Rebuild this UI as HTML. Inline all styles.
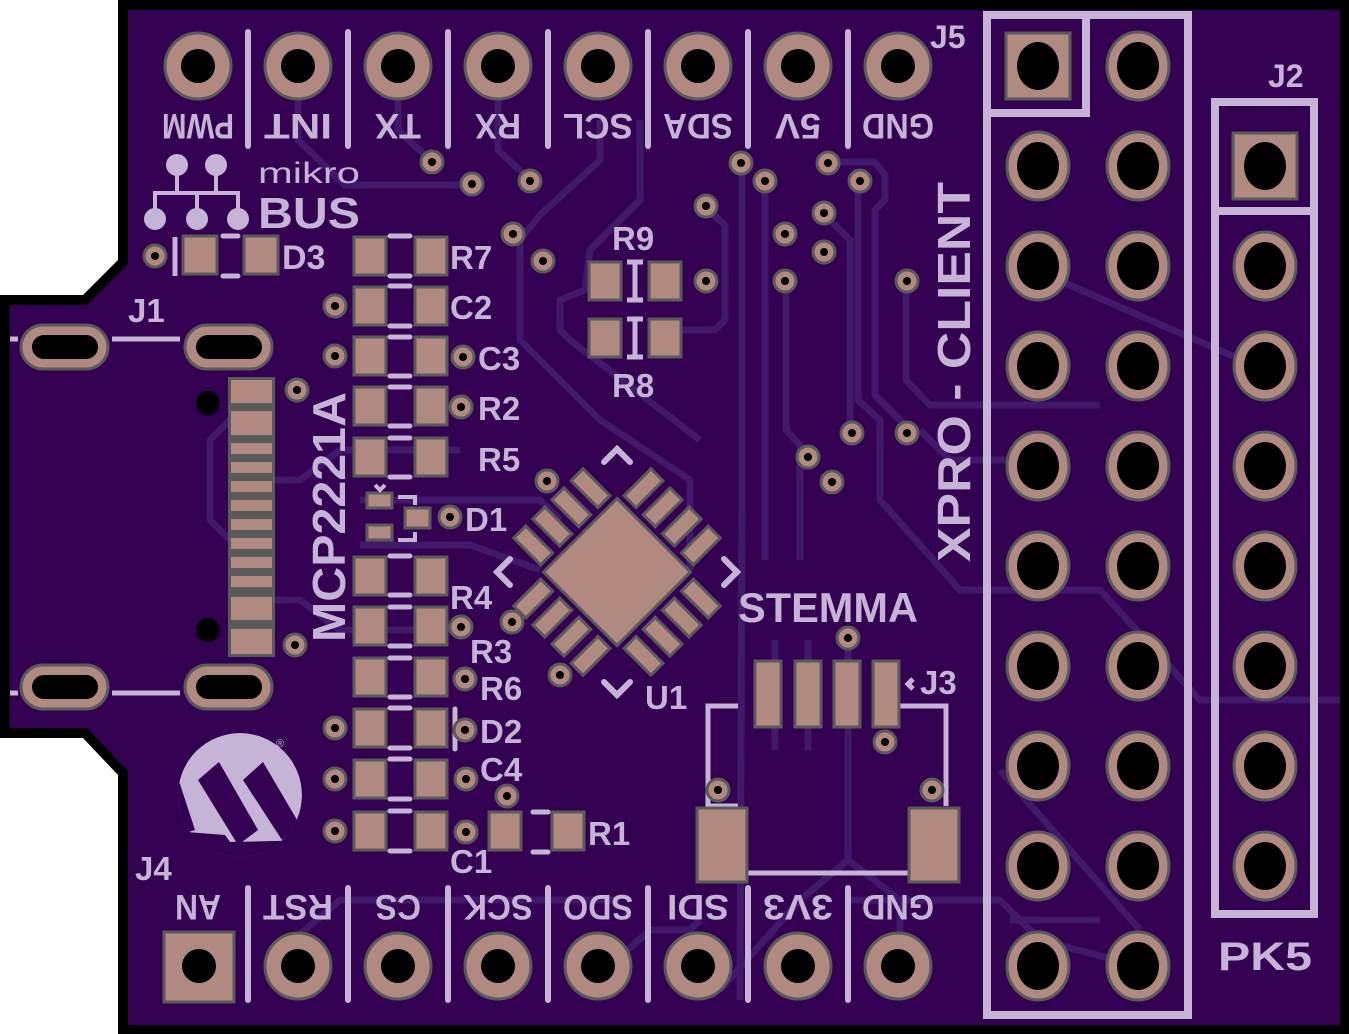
<!DOCTYPE html>
<html><head><meta charset="utf-8"><style>
html,body{margin:0;padding:0;background:#fff;}
svg{display:block;}
text{font-family:"Liberation Sans","DejaVu Sans",sans-serif;font-weight:bold;fill:#c6b4d6;}
</style></head><body>
<svg width="1349" height="1034" viewBox="0 0 1349 1034" xmlns="http://www.w3.org/2000/svg">
<defs>
<g id="via"><circle r="11" fill="#b08a80" stroke="#5a5a5a" stroke-width="3"/><circle r="4" fill="#000"/></g>
<g id="hp"><circle r="33" fill="#b08a80" stroke="#5a5a5a" stroke-width="3"/><circle r="17" fill="#000"/></g>
<g id="ep"><ellipse rx="31" ry="34" fill="#b08a80" stroke="#5a5a5a" stroke-width="3"/><ellipse rx="21" ry="24" fill="#000"/></g>
<rect id="sp" x="-16" y="-19" width="32" height="38" fill="#b08a80" stroke="#5a5a5a" stroke-width="3"/>
<g id="upins">
<rect x="-49" y="-97" width="17" height="38" fill="#b08a80" stroke="#5a5a5a" stroke-width="3"/>
<rect x="-22" y="-97" width="17" height="38" fill="#b08a80" stroke="#5a5a5a" stroke-width="3"/>
<rect x="5" y="-97" width="17" height="38" fill="#b08a80" stroke="#5a5a5a" stroke-width="3"/>
<rect x="32" y="-97" width="17" height="38" fill="#b08a80" stroke="#5a5a5a" stroke-width="3"/>
</g>
</defs>
<polygon points="118,0 1349,0 1349,1034 118,1034 118,775 83,738 0,738 0,295 83,295 118,260" fill="#000"/>
<polygon points="128,10 1340,10 1340,1025 128,1025 128,771 87,728 10,728 10,305 87,305 128,264" fill="#330052"/>

<!-- traces -->
<g fill="none" stroke="#41186a" stroke-width="7" stroke-linejoin="round">
<path d="M298,100 L298,140 L345,185 L465,185"/>
<path d="M398,100 L398,130 L430,160"/>
<path d="M498,100 L498,150 L530,180"/>
<path d="M742,162 L742,500 L740,1000"/>
<path d="M765,181 L765,560"/>
<path d="M786,282 L786,430 L800,445 L800,560"/>
<path d="M823,213 L850,240 L850,420 L860,440"/>
<path d="M858,181 L858,400 L880,420 L880,500 L960,590 L1100,590 L1200,700 L1340,700"/>
<path d="M827,162 L875,162 L885,175 L885,200 L875,210 L875,395 L905,425"/>
<path d="M906,281 L906,380 L930,405 L1100,405"/>
<path d="M708,210 L725,225 L725,320 L715,330 L660,330"/>
<path d="M600,120 L600,160 L540,215 L520,240 L520,340 L600,420 L690,480 L690,570"/>
<path d="M640,120 L640,200 L590,250 L585,290 L560,300 L560,330 L570,340 L700,440"/>
<path d="M920,430 L950,460 L1035,460"/>
<path d="M848,640 L848,860 L800,900 L720,990"/>
<path d="M848,860 L900,900 L900,990"/>
<path d="M850,900 L1000,900 L1040,940 L1138,966"/>
<path d="M775,640 L775,750"/>
<path d="M808,640 L808,750"/>
<path d="M230,540 L210,520 L210,440 L230,420"/>
<path d="M275,480 L300,480 L340,450 L460,450"/>
<path d="M275,600 L300,600 L340,630 L460,630"/>
<path d="M360,500 L540,500 L560,520"/>
<path d="M360,545 L470,545 L540,570"/>
<path d="M600,975 L650,930 L690,930 L700,920"/>
<path d="M270,960 L340,900 L620,900"/>
<path d="M1010,920 L1100,920"/>
<path d="M1035,270 L1265,370"/>
<path d="M1000,770 L1140,930"/>
</g>

<!-- separators -->
<g stroke="#c6b4d6" stroke-width="6" stroke-linecap="round">
<line x1="248" y1="32" x2="248" y2="146"/><line x1="348" y1="32" x2="348" y2="146"/><line x1="448" y1="32" x2="448" y2="146"/><line x1="548" y1="32" x2="548" y2="146"/><line x1="648" y1="32" x2="648" y2="146"/><line x1="748" y1="32" x2="748" y2="146"/><line x1="848" y1="32" x2="848" y2="146"/>
<line x1="248" y1="888" x2="248" y2="1000"/><line x1="348" y1="888" x2="348" y2="1000"/><line x1="448" y1="888" x2="448" y2="1000"/><line x1="548" y1="888" x2="548" y2="1000"/><line x1="648" y1="888" x2="648" y2="1000"/><line x1="748" y1="888" x2="748" y2="1000"/><line x1="848" y1="888" x2="848" y2="1000"/>
</g>
<use href="#hp" x="198" y="66"/><use href="#hp" x="298" y="66"/><use href="#hp" x="398" y="66"/><use href="#hp" x="498" y="66"/><use href="#hp" x="598" y="66"/><use href="#hp" x="698" y="66"/><use href="#hp" x="798" y="66"/><use href="#hp" x="898" y="66"/>
<g font-size="35" text-anchor="middle">
<text x="198" y="140" transform="rotate(180 198 127)" textLength="72" lengthAdjust="spacingAndGlyphs">PWM</text>
<text x="298" y="140" transform="rotate(180 298 127)" textLength="68" lengthAdjust="spacingAndGlyphs">INT</text>
<text x="398" y="140" transform="rotate(180 398 127)" textLength="46" lengthAdjust="spacingAndGlyphs">TX</text>
<text x="498" y="140" transform="rotate(180 498 127)" textLength="46" lengthAdjust="spacingAndGlyphs">RX</text>
<text x="598" y="140" transform="rotate(180 598 127)" textLength="70" lengthAdjust="spacingAndGlyphs">SCL</text>
<text x="698" y="140" transform="rotate(180 698 127)" textLength="70" lengthAdjust="spacingAndGlyphs">SDA</text>
<text x="798" y="140" transform="rotate(180 798 127)" textLength="46" lengthAdjust="spacingAndGlyphs">5V</text>
<text x="898" y="140" transform="rotate(180 898 127)" textLength="72" lengthAdjust="spacingAndGlyphs">GND</text>
<text x="198" y="921" transform="rotate(180 198 908)" textLength="46" lengthAdjust="spacingAndGlyphs">AN</text>
<text x="298" y="921" transform="rotate(180 298 908)" textLength="70" lengthAdjust="spacingAndGlyphs">RST</text>
<text x="398" y="921" transform="rotate(180 398 908)" textLength="46" lengthAdjust="spacingAndGlyphs">CS</text>
<text x="498" y="921" transform="rotate(180 498 908)" textLength="70" lengthAdjust="spacingAndGlyphs">SCK</text>
<text x="598" y="921" transform="rotate(180 598 908)" textLength="70" lengthAdjust="spacingAndGlyphs">SDO</text>
<text x="698" y="921" transform="rotate(180 698 908)" textLength="62" lengthAdjust="spacingAndGlyphs">SDI</text>
<text x="798" y="921" transform="rotate(180 798 908)" textLength="70" lengthAdjust="spacingAndGlyphs">3V3</text>
<text x="898" y="921" transform="rotate(180 898 908)" textLength="72" lengthAdjust="spacingAndGlyphs">GND</text>
</g>
<!-- bottom header -->
<rect x="164" y="932" width="70" height="70" fill="#b08a80" stroke="#5a5a5a" stroke-width="3"/><circle cx="199" cy="966" r="17" fill="#000"/>
<use href="#hp" x="298" y="966"/><use href="#hp" x="398" y="966"/><use href="#hp" x="498" y="966"/><use href="#hp" x="598" y="966"/><use href="#hp" x="698" y="966"/><use href="#hp" x="798" y="966"/><use href="#hp" x="898" y="966"/>

<!-- J5 -->
<g fill="none" stroke="#c6b4d6" stroke-width="8">
<rect x="987" y="15" width="201" height="1000"/>
<polyline points="1086,15 1086,113 987,113"/>
<rect x="1215" y="102" width="99" height="812"/>
<line x1="1215" y1="211" x2="1314" y2="211"/>
</g>
<rect x="1006" y="33" width="64" height="66" fill="#b08a80" stroke="#5a5a5a" stroke-width="3"/><ellipse cx="1038" cy="66" rx="21" ry="24" fill="#000"/>
<use href="#ep" x="1138" y="66"/>
<g>
<use href="#ep" x="1038" y="166"/><use href="#ep" x="1138" y="166"/>
<use href="#ep" x="1038" y="266"/><use href="#ep" x="1138" y="266"/>
<use href="#ep" x="1038" y="366"/><use href="#ep" x="1138" y="366"/>
<use href="#ep" x="1038" y="466"/><use href="#ep" x="1138" y="466"/>
<use href="#ep" x="1038" y="566"/><use href="#ep" x="1138" y="566"/>
<use href="#ep" x="1038" y="666"/><use href="#ep" x="1138" y="666"/>
<use href="#ep" x="1038" y="766"/><use href="#ep" x="1138" y="766"/>
<use href="#ep" x="1038" y="866"/><use href="#ep" x="1138" y="866"/>
<use href="#ep" x="1038" y="966"/><use href="#ep" x="1138" y="966"/>
</g>
<rect x="1233" y="133" width="64" height="66" fill="#b08a80" stroke="#5a5a5a" stroke-width="3"/><ellipse cx="1265" cy="166" rx="21" ry="24" fill="#000"/>
<use href="#ep" x="1265" y="266"/><use href="#ep" x="1265" y="366"/><use href="#ep" x="1265" y="466"/><use href="#ep" x="1265" y="566"/><use href="#ep" x="1265" y="666"/><use href="#ep" x="1265" y="766"/><use href="#ep" x="1265" y="866"/>
<text x="930" y="48" font-size="32">J5</text>
<text x="1268" y="87" font-size="32">J2</text>
<text x="1218" y="970" font-size="40" textLength="94" lengthAdjust="spacingAndGlyphs">PK5</text>
<text transform="translate(970,562) rotate(-90)" font-size="46" textLength="380" lengthAdjust="spacingAndGlyphs">XPRO - CLIENT</text>

<!-- mikroBUS logo -->
<g fill="#c6b4d6" stroke="#c6b4d6" stroke-width="4">
<circle cx="177" cy="165" r="9"/><circle cx="216" cy="165" r="9"/>
<circle cx="155" cy="219" r="9"/><circle cx="197" cy="219" r="9"/><circle cx="238" cy="219" r="9"/>
<polyline fill="none" points="177,165 177,193"/><polyline fill="none" points="216,165 216,193"/>
<polyline fill="none" points="155,219 155,193 238,193 238,219"/><line x1="197" y1="193" x2="197" y2="219"/>
</g>
<text x="258" y="183" font-size="30" style="font-weight:normal" textLength="102" lengthAdjust="spacingAndGlyphs">mikro</text>
<text x="258" y="228" font-size="44" textLength="102" lengthAdjust="spacingAndGlyphs">BUS</text>

<!-- D3 -->
<line x1="175" y1="237" x2="175" y2="276" stroke="#c6b4d6" stroke-width="5"/>
<rect x="183" y="236" width="34" height="38" fill="#b08a80" stroke="#5a5a5a" stroke-width="3"/>
<rect x="244" y="236" width="34" height="38" fill="#b08a80" stroke="#5a5a5a" stroke-width="3"/>
<g stroke="#c6b4d6" stroke-width="5" stroke-linecap="round"><line x1="223" y1="236" x2="238" y2="236"/><line x1="223" y1="276" x2="238" y2="276"/></g>
<text x="282" y="269" font-size="34">D3</text>

<!-- left passive column -->
<g stroke="#c6b4d6" stroke-width="5" stroke-linecap="round">
<line x1="390" y1="236" x2="410" y2="236"/><line x1="390" y1="276" x2="410" y2="276"/>
<line x1="390" y1="286" x2="410" y2="286"/><line x1="390" y1="326" x2="410" y2="326"/>
<line x1="390" y1="337" x2="410" y2="337"/><line x1="390" y1="376" x2="410" y2="376"/>
<line x1="390" y1="387" x2="410" y2="387"/><line x1="390" y1="426" x2="410" y2="426"/>
<line x1="390" y1="438" x2="410" y2="438"/><line x1="390" y1="477" x2="410" y2="477"/>
<line x1="390" y1="556" x2="410" y2="556"/><line x1="390" y1="595" x2="410" y2="595"/>
<line x1="390" y1="607" x2="410" y2="607"/><line x1="390" y1="646" x2="410" y2="646"/>
<line x1="390" y1="658" x2="410" y2="658"/><line x1="390" y1="697" x2="410" y2="697"/>
<line x1="390" y1="708" x2="410" y2="708"/><line x1="390" y1="748" x2="410" y2="748"/>
<line x1="390" y1="759" x2="410" y2="759"/><line x1="390" y1="799" x2="410" y2="799"/>
<line x1="390" y1="811" x2="410" y2="811"/><line x1="390" y1="851" x2="410" y2="851"/>
<line x1="455" y1="709" x2="455" y2="749"/>
<line x1="533" y1="812" x2="548" y2="812"/><line x1="533" y1="852" x2="548" y2="852"/>
</g>
<use href="#sp" x="370" y="256"/><use href="#sp" x="431" y="256"/>
<use href="#sp" x="370" y="306"/><use href="#sp" x="431" y="306"/>
<use href="#sp" x="370" y="356"/><use href="#sp" x="431" y="356"/>
<use href="#sp" x="370" y="406"/><use href="#sp" x="431" y="406"/>
<use href="#sp" x="370" y="457"/><use href="#sp" x="431" y="457"/>
<use href="#sp" x="370" y="576"/><use href="#sp" x="431" y="576"/>
<use href="#sp" x="370" y="626"/><use href="#sp" x="431" y="626"/>
<use href="#sp" x="370" y="677"/><use href="#sp" x="431" y="677"/>
<use href="#sp" x="370" y="728"/><use href="#sp" x="431" y="728"/>
<use href="#sp" x="370" y="779"/><use href="#sp" x="431" y="779"/>
<use href="#sp" x="370" y="831"/><use href="#sp" x="431" y="831"/>
<use href="#sp" x="505" y="831"/><use href="#sp" x="568" y="831"/>
<!-- D1 -->
<rect x="367" y="493" width="25" height="15" fill="#b08a80" stroke="#5a5a5a" stroke-width="3"/>
<rect x="367" y="525" width="25" height="15" fill="#b08a80" stroke="#5a5a5a" stroke-width="3"/>
<rect x="405" y="508" width="25" height="20" fill="#b08a80" stroke="#5a5a5a" stroke-width="3"/>
<polyline points="398,497 415,497 415,505" fill="none" stroke="#c6b4d6" stroke-width="4"/>
<polyline points="398,540 415,540 415,532" fill="none" stroke="#c6b4d6" stroke-width="4"/>
<polyline points="375,485 380,490 385,485" fill="none" stroke="#c6b4d6" stroke-width="4"/>

<g font-size="33">
<text x="450" y="269">R7</text>
<text x="450" y="319">C2</text>
<text x="478" y="370">C3</text>
<text x="478" y="420">R2</text>
<text x="478" y="471">R5</text>
<text x="465" y="531">D1</text>
<text x="450" y="609">R4</text>
<text x="470" y="663">R3</text>
<text x="480" y="700">R6</text>
<text x="480" y="743">D2</text>
<text x="480" y="781">C4</text>
<text x="450" y="873">C1</text>
<text x="588" y="845">R1</text>
<text x="612" y="250">R9</text>
<text x="612" y="397">R8</text>
<text x="645" y="709">U1</text>
<text x="920" y="694">J3</text>
<text x="128" y="322">J1</text>
<text x="135" y="880">J4</text>
</g>
<text transform="translate(345,642) rotate(-90)" font-size="46" textLength="250" lengthAdjust="spacingAndGlyphs">MCP2221A</text>

<!-- R9 R8 -->
<use href="#sp" x="605" y="281"/><use href="#sp" x="665" y="281"/>
<use href="#sp" x="605" y="338"/><use href="#sp" x="665" y="338"/>
<g stroke="#c6b4d6" stroke-width="5"><line x1="635" y1="262" x2="635" y2="300"/><line x1="627" y1="262" x2="643" y2="262"/><line x1="627" y1="300" x2="643" y2="300"/>
<line x1="635" y1="319" x2="635" y2="357"/><line x1="627" y1="319" x2="643" y2="319"/><line x1="627" y1="357" x2="643" y2="357"/></g>

<!-- U1 -->
<g transform="translate(617,572) rotate(45)">
<rect x="-52" y="-52" width="104" height="104" fill="#b08a80" stroke="#5a5a5a" stroke-width="3"/>
<use href="#upins"/>
<use href="#upins" transform="rotate(90)"/>
<use href="#upins" transform="rotate(180)"/>
<use href="#upins" transform="rotate(270)"/>
</g>
<g fill="none" stroke="#c6b4d6" stroke-width="6" stroke-linecap="round">
<polyline points="604,462 617,449 630,462"/>
<polyline points="510,559 497,572 510,585"/>
<polyline points="724,559 737,572 724,585"/>
<polyline points="604,682 617,695 630,682"/>
</g>

<!-- J1 USB -->
<g stroke="#c6b4d6" stroke-width="5">
<line x1="10" y1="339" x2="18" y2="339"/><line x1="112" y1="339" x2="180" y2="339"/>
<line x1="10" y1="693" x2="18" y2="693"/><line x1="112" y1="693" x2="180" y2="693"/>
</g>
<g fill="#b08a80" stroke="#5a5a5a" stroke-width="3">
<rect x="21" y="325" width="87" height="44" rx="22"/><rect x="185" y="325" width="87" height="44" rx="22"/>
<rect x="21" y="665" width="87" height="44" rx="22"/><rect x="185" y="665" width="87" height="44" rx="22"/>
</g>
<g fill="#000">
<rect x="32" y="335" width="66" height="24" rx="12"/><rect x="196" y="335" width="66" height="24" rx="12"/>
<rect x="32" y="675" width="66" height="24" rx="12"/><rect x="196" y="675" width="66" height="24" rx="12"/>
<circle cx="208" cy="403" r="12"/><circle cx="208" cy="630" r="12"/>
</g>
<rect x="228" y="377" width="47" height="280" fill="#5a5a5a"/>
<g fill="#b08a80">
<rect x="231" y="380" width="41" height="23"/><rect x="231" y="411" width="41" height="24"/>
<rect x="231" y="443" width="41" height="11"/><rect x="231" y="462" width="41" height="11"/>
<rect x="231" y="481" width="41" height="11"/><rect x="231" y="500" width="41" height="11"/>
<rect x="231" y="519" width="41" height="11"/><rect x="231" y="538" width="41" height="11"/>
<rect x="231" y="557" width="41" height="11"/><rect x="231" y="576" width="41" height="11"/>
<rect x="231" y="597" width="41" height="23"/><rect x="231" y="629" width="41" height="25"/>
</g>

<!-- Microchip logo -->
<clipPath id="lc"><circle cx="240" cy="795" r="62"/></clipPath>
<g clip-path="url(#lc)">
<circle cx="240" cy="795" r="62" fill="#c6b4d6"/>
<polygon points="168,850 168,800 178,808 208,762 250,830 240,850" fill="#330052" opacity="0"/>
<polygon points="198,780 219,762 258,830 238,845" fill="#330052"/>
<polygon points="243,780 263,762 300,825 282,840" fill="#330052"/>
<polygon points="160,790 178,778 195,830 160,840" fill="#330052"/>
<polygon points="160,857 320,857 320,840 230,842 225,835 160,830" fill="#330052"/>
</g>
<text x="276" y="747" font-size="11" style="font-weight:normal">®</text>

<!-- STEMMA J3 -->
<text x="738" y="622" font-size="42" textLength="180" lengthAdjust="spacingAndGlyphs">STEMMA</text>
<g fill="none" stroke="#c6b4d6" stroke-width="5">
<polyline points="738,806 708,806 708,706 738,706"/>
<polyline points="900,706 946,706 946,806"/>
<line x1="738" y1="873" x2="910" y2="873"/>
<polyline points="913,679 908,684 913,689"/>
</g>
<g fill="#b08a80" stroke="#5a5a5a" stroke-width="3">
<rect x="755" y="661" width="26" height="66"/><rect x="795" y="661" width="26" height="66"/>
<rect x="834" y="661" width="26" height="66"/><rect x="873" y="661" width="26" height="66"/>
<rect x="697" y="808" width="50" height="74"/><rect x="909" y="808" width="50" height="74"/>
</g>

<!-- vias -->
<g>
<use href="#via" x="155" y="256"/><use href="#via" x="335" y="306"/><use href="#via" x="335" y="356"/><use href="#via" x="463" y="357"/><use href="#via" x="461" y="407"/><use href="#via" x="297" y="390"/><use href="#via" x="295" y="645"/>
<use href="#via" x="432" y="162"/><use href="#via" x="472" y="184"/><use href="#via" x="530" y="181"/><use href="#via" x="513" y="234"/><use href="#via" x="543" y="261"/>
<use href="#via" x="547" y="481"/><use href="#via" x="512" y="622"/><use href="#via" x="560" y="675"/><use href="#via" x="450" y="517"/>
<use href="#via" x="461" y="627"/><use href="#via" x="465" y="679"/><use href="#via" x="335" y="728"/><use href="#via" x="465" y="730"/>
<use href="#via" x="335" y="779"/><use href="#via" x="466" y="779"/><use href="#via" x="335" y="831"/><use href="#via" x="466" y="832"/><use href="#via" x="507" y="796"/>
<use href="#via" x="706" y="206"/><use href="#via" x="741" y="163"/><use href="#via" x="765" y="181"/><use href="#via" x="828" y="163"/><use href="#via" x="860" y="181"/>
<use href="#via" x="824" y="213"/><use href="#via" x="785" y="234"/><use href="#via" x="824" y="252"/><use href="#via" x="785" y="281"/><use href="#via" x="706" y="281"/><use href="#via" x="907" y="281"/>
<use href="#via" x="852" y="433"/><use href="#via" x="907" y="433"/><use href="#via" x="808" y="457"/><use href="#via" x="832" y="482"/>
<use href="#via" x="848" y="638"/><use href="#via" x="718" y="790"/><use href="#via" x="932" y="790"/><use href="#via" x="885" y="742"/>
</g>
</svg>
</body></html>
